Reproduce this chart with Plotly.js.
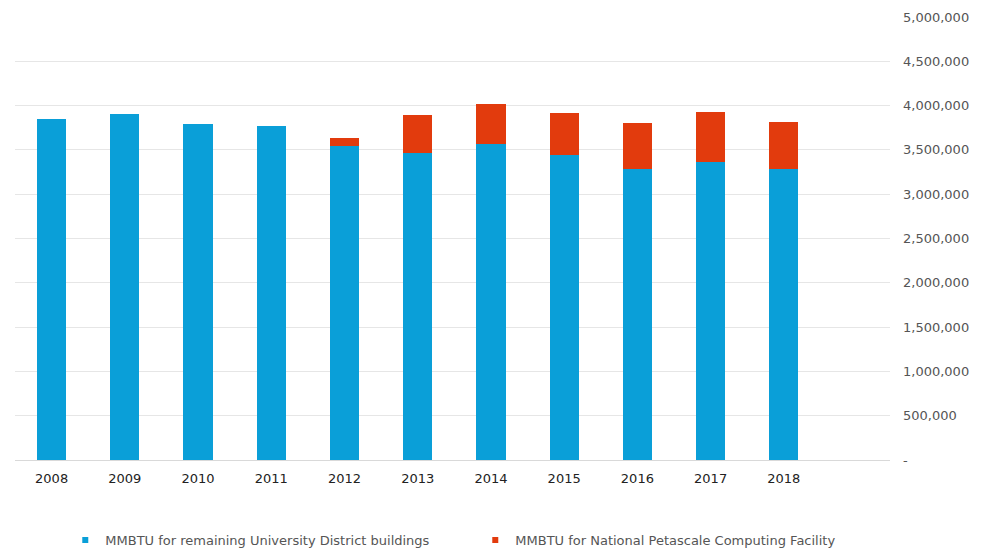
<!DOCTYPE html>
<html>
<head>
<meta charset="utf-8">
<script src="https://cdn.plot.ly/plotly-3.0.1.min.js"></script>
<style>html,body{margin:0;padding:0;background:#fff}#chart{width:989px;height:551px}</style>
</head>
<body>
<div id="chart"></div>
<script>
var years = ['2008','2009','2010','2011','2012','2013','2014','2015','2016','2017','2018'];
var districtBuildings = [3845000, 3905000, 3790000, 3765000, 3545000, 3470000, 3567000, 3440000, 3280000, 3367000, 3280000];
var petascaleFacility = [0, 0, 0, 0, 88000, 425000, 452000, 472000, 520000, 565000, 540000];
var yTickVals = [0, 500000, 1000000, 1500000, 2000000, 2500000, 3000000, 3500000, 4000000, 4500000, 5000000];
var yTickText = ['-', '500,000', '1,000,000', '1,500,000', '2,000,000', '2,500,000', '3,000,000', '3,500,000', '4,000,000', '4,500,000', '5,000,000'];
var seriesNames = ['MMBTU for remaining University District buildings', 'MMBTU for National Petascale Computing Facility'];
var colors = ['#0a9fd8', '#e23b0d'];

var font = '"DejaVu Sans", sans-serif';
var traces = [
  {type:'bar', x:years, y:districtBuildings, name:seriesNames[0], marker:{color:colors[0]}, showlegend:false, hoverinfo:'x+y'},
  {type:'bar', x:years, y:petascaleFacility, name:seriesNames[1], marker:{color:colors[1]}, showlegend:false, hoverinfo:'x+y'},
  {type:'scatter', mode:'markers', x:[null], y:[null], name:seriesNames[0], marker:{symbol:'square', size:6, color:colors[0]}},
  {type:'scatter', mode:'markers', x:[null], y:[null], name:seriesNames[1], marker:{symbol:'square', size:6, color:colors[1]}}
];
var layout = {
  width:989, height:551,
  margin:{l:15, r:99, t:17, b:91, autoexpand:false},
  paper_bgcolor:'#fff', plot_bgcolor:'#fff',
  barmode:'stack', bargap:0.6,
  font:{family:font, color:'#555'},
  xaxis:{type:'category', range:[-0.5, 11.45], showgrid:false, showline:true, linecolor:'#d9d9d9', linewidth:1,
         ticks:'', ticklabelstandoff:6, tickfont:{size:13, color:'#222', family:font}, fixedrange:true},
  yaxis:{side:'right', range:[0, 5000000], tickvals:yTickVals, ticktext:yTickText, showgrid:true, gridcolor:'#e6e6e6', gridwidth:1,
         zeroline:false, showline:false, ticks:'', ticklabelstandoff:12, tickfont:{size:13, color:'#555', family:font}, fixedrange:true},
  showlegend:true,
  legend:{orientation:'h', traceorder:'normal', xref:'container', yref:'container', x:0.066, xanchor:'left', y:0.02, yanchor:'middle',
          font:{size:13, color:'#555', family:font},
          entrywidth:365, entrywidthmode:'pixels', itemclick:false, itemdoubleclick:false}
};
Plotly.newPlot('chart', traces, layout, {displayModeBar:false, staticPlot:true});
</script>
</body>
</html>
